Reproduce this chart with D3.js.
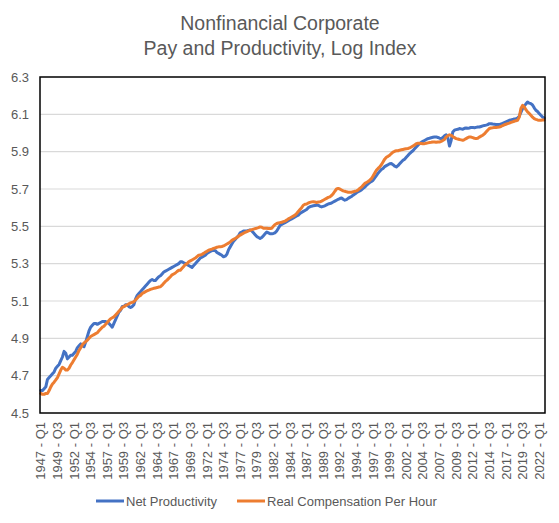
<!DOCTYPE html>
<html>
<head>
<meta charset="utf-8">
<title>Nonfinancial Corporate Pay and Productivity</title>
<script src="https://cdn.jsdelivr.net/npm/d3@7"></script>
<style>
  body { margin: 0; background: #fff; }
  text { font-family: "Liberation Sans", Arial, sans-serif; }
</style>
</head>
<body>
<div id="main"></div>
<script>
const width = 559;
const height = 523;

// quarters 1947 Q1 .. 2022 Q4, one row per year
const years = d3.range(1947, 2023);
const quarters = years.flatMap(y => ["Q1", "Q2", "Q3", "Q4"].map(q => y + " - " + q));

const netProductivity = [
  4.62, 4.62, 4.63, 4.64,       // 1947
  4.68, 4.69, 4.70, 4.71,
  4.72, 4.74, 4.75, 4.76,
  4.78, 4.80, 4.83, 4.82,       // 1950
  4.79, 4.80, 4.81, 4.81,
  4.82, 4.83, 4.85, 4.86,
  4.87, 4.86, 4.855, 4.88,
  4.91, 4.94, 4.96, 4.97,
  4.98, 4.98, 4.975, 4.98,      // 1955
  4.985, 4.99, 4.99, 4.99,
  4.985, 4.98, 4.97, 4.96,
  4.98, 5.00, 5.02, 5.04,
  5.05, 5.07, 5.07, 5.08,
  5.08, 5.07, 5.065, 5.07,      // 1960
  5.08, 5.11, 5.13, 5.14,
  5.15, 5.16, 5.17, 5.18,
  5.19, 5.20, 5.21, 5.215,
  5.21, 5.21, 5.22, 5.23,
  5.235, 5.245, 5.255, 5.26,    // 1965
  5.265, 5.27, 5.275, 5.28,
  5.285, 5.29, 5.295, 5.30,
  5.31, 5.31, 5.305, 5.30,
  5.295, 5.29, 5.285, 5.28,
  5.29, 5.30, 5.31, 5.32,       // 1970
  5.33, 5.335, 5.34, 5.345,
  5.355, 5.36, 5.365, 5.37,
  5.372, 5.37, 5.36, 5.355,
  5.35, 5.345, 5.337, 5.34,
  5.35, 5.375, 5.39, 5.405,     // 1975
  5.42, 5.43, 5.44, 5.45,
  5.465, 5.47, 5.475, 5.475,
  5.475, 5.478, 5.48, 5.475,
  5.465, 5.455, 5.445, 5.44,
  5.435, 5.44, 5.45, 5.46,      // 1980
  5.47, 5.465, 5.46, 5.46,
  5.462, 5.465, 5.475, 5.49,
  5.505, 5.51, 5.515, 5.52,
  5.525, 5.53, 5.535, 5.54,
  5.545, 5.55, 5.555, 5.56,     // 1985
  5.569, 5.575, 5.58, 5.585,
  5.59, 5.60, 5.605, 5.608,
  5.61, 5.612, 5.613, 5.613,
  5.607, 5.604, 5.607, 5.61,
  5.615, 5.62, 5.622, 5.625,    // 1990
  5.63, 5.635, 5.64, 5.645,
  5.649, 5.652, 5.645, 5.64,
  5.643, 5.65, 5.655, 5.66,
  5.667, 5.673, 5.68, 5.685,
  5.69, 5.695, 5.703, 5.71,     // 1995
  5.72, 5.728, 5.735, 5.74,
  5.747, 5.76, 5.772, 5.785,
  5.795, 5.805, 5.81, 5.82,
  5.825, 5.83, 5.835, 5.836,
  5.83, 5.822, 5.818, 5.825,    // 2000
  5.835, 5.845, 5.854, 5.86,
  5.87, 5.88, 5.89, 5.898,
  5.905, 5.915, 5.925, 5.935,
  5.943, 5.95, 5.955, 5.96,
  5.965, 5.97, 5.972, 5.975,    // 2005
  5.977, 5.979, 5.979, 5.976,
  5.972, 5.97, 5.975, 5.985,
  5.99, 5.975, 5.93, 5.96,
  6.005, 6.015, 6.018, 6.02,
  6.024, 6.022, 6.02, 6.025,    // 2010
  6.027, 6.025, 6.027, 6.03,
  6.03, 6.028, 6.03, 6.032,
  6.032, 6.035, 6.038, 6.04,
  6.042, 6.045, 6.05, 6.05,
  6.048, 6.047, 6.046, 6.045,   // 2015
  6.045, 6.048, 6.052, 6.056,
  6.06, 6.064, 6.068, 6.07,
  6.072, 6.075, 6.077, 6.08,
  6.09, 6.11, 6.131, 6.145,
  6.155, 6.166, 6.16, 6.157,    // 2020
  6.15, 6.135, 6.122, 6.115,
  6.105, 6.095, 6.086, 6.08
];

const realCompensation = [
  4.605, 4.60, 4.60, 4.605,     // 1947
  4.605, 4.62, 4.64, 4.655,
  4.665, 4.677, 4.69, 4.71,
  4.73, 4.745, 4.74, 4.73,      // 1950
  4.73, 4.74, 4.757, 4.77,
  4.785, 4.80, 4.815, 4.835,
  4.85, 4.865, 4.875, 4.882,
  4.89, 4.90, 4.91, 4.915,
  4.92, 4.925, 4.93, 4.94,      // 1955
  4.95, 4.96, 4.965, 4.975,
  4.985, 4.995, 5.005, 5.01,
  5.015, 5.025, 5.035, 5.045,
  5.055, 5.065, 5.07, 5.075,
  5.08, 5.085, 5.09, 5.093,     // 1960
  5.096, 5.105, 5.115, 5.125,
  5.13, 5.14, 5.145, 5.15,
  5.155, 5.158, 5.162, 5.165,
  5.168, 5.17, 5.172, 5.175,
  5.176, 5.185, 5.195, 5.205,   // 1965
  5.212, 5.221, 5.23, 5.24,
  5.245, 5.25, 5.258, 5.265,
  5.265, 5.275, 5.285, 5.295,
  5.30, 5.31, 5.315, 5.32,
  5.325, 5.33, 5.338, 5.345,    // 1970
  5.346, 5.35, 5.355, 5.362,
  5.366, 5.372, 5.375, 5.378,
  5.382, 5.385, 5.388, 5.39,
  5.39, 5.392, 5.395, 5.40,
  5.405, 5.41, 5.417, 5.425,    // 1975
  5.43, 5.435, 5.44, 5.447,
  5.453, 5.458, 5.463, 5.468,
  5.472, 5.476, 5.479, 5.482,
  5.485, 5.488, 5.49, 5.493,
  5.497, 5.495, 5.49, 5.49,     // 1980
  5.49, 5.488, 5.488, 5.49,
  5.50, 5.51, 5.515, 5.518,
  5.52, 5.522, 5.525, 5.528,
  5.533, 5.54, 5.545, 5.55,
  5.555, 5.56, 5.569, 5.58,     // 1985
  5.59, 5.60, 5.613, 5.618,
  5.62, 5.625, 5.628, 5.631,
  5.632, 5.63, 5.628, 5.63,
  5.631, 5.635, 5.64, 5.645,
  5.65, 5.655, 5.658, 5.665,    // 1990
  5.675, 5.688, 5.70, 5.703,
  5.70, 5.695, 5.69, 5.688,
  5.685, 5.683, 5.682, 5.683,
  5.685, 5.688, 5.69, 5.695,
  5.703, 5.71, 5.72, 5.73,      // 1995
  5.735, 5.74, 5.747, 5.755,
  5.77, 5.785, 5.80, 5.81,
  5.818, 5.83, 5.845, 5.86,
  5.87, 5.875, 5.881, 5.89,
  5.898, 5.902, 5.905, 5.905,   // 2000
  5.908, 5.91, 5.912, 5.914,
  5.916, 5.917, 5.92, 5.925,
  5.93, 5.935, 5.943, 5.945,
  5.945, 5.944, 5.943, 5.943,
  5.945, 5.947, 5.949, 5.95,    // 2005
  5.952, 5.952, 5.95, 5.952,
  5.952, 5.955, 5.96, 5.965,
  5.979, 5.985, 5.99, 5.988,
  5.98, 5.975, 5.97, 5.968,
  5.965, 5.963, 5.961, 5.965,   // 2010
  5.97, 5.975, 5.979, 5.978,
  5.975, 5.972, 5.97, 5.972,
  5.978, 5.983, 5.988, 5.995,
  6.005, 6.015, 6.024, 6.027,
  6.028, 6.03, 6.03, 6.031,     // 2015
  6.032, 6.035, 6.04, 6.044,
  6.047, 6.05, 6.053, 6.057,
  6.06, 6.063, 6.066, 6.068,
  6.085, 6.131, 6.148, 6.14,
  6.125, 6.113, 6.105, 6.095,   // 2020
  6.085, 6.077, 6.073, 6.07,
  6.068, 6.068, 6.07, 6.07
];

const yTicks = [4.5, 4.7, 4.9, 5.1, 5.3, 5.5, 5.7, 5.9, 6.1, 6.3];

const seriesNames = ["Net Productivity", "Real Compensation Per Hour"];
const seriesColors = ["#4472C4", "#ED7D31"];

const margin = { top: 77, right: 14, bottom: 110, left: 40 };

const svg = d3.select("#main").append("svg")
  .attr("width", width)
  .attr("height", height);

const x = d3.scaleBand()
  .domain(quarters)
  .range([margin.left, width - margin.right]);

const y = d3.scaleLinear()
  .domain([4.5, 6.3])
  .range([height - margin.bottom, margin.top]);

// title
const title = svg.append("text")
  .attr("text-anchor", "middle")
  .style("font-size", "19.5px")
  .style("fill", "#595959");
title.append("tspan").attr("x", 280).attr("y", 30).text("Nonfinancial Corporate");
title.append("tspan").attr("x", 280).attr("y", 55).text("Pay and Productivity, Log Index");

// gridlines
svg.append("g")
  .selectAll("line")
  .data(yTicks.slice(1, -1))
  .join("line")
  .attr("x1", margin.left)
  .attr("x2", width - margin.right)
  .attr("y1", d => y(d))
  .attr("y2", d => y(d))
  .attr("stroke", "#d9d9d9")
  .attr("stroke-width", 1.2);

// y axis
const yAxis = svg.append("g")
  .attr("transform", `translate(${margin.left},0)`)
  .call(d3.axisLeft(y).tickValues(yTicks).tickFormat(d3.format(".1f")).tickSize(0).tickPadding(11));
yAxis.select(".domain").remove();
yAxis.selectAll("text")
  .style("font-size", "13px")
  .style("fill", "#595959")
  .style("font-family", "'Liberation Sans', Arial, sans-serif");

// x axis, label every 10th quarter
const xAxis = svg.append("g")
  .attr("transform", `translate(0,${height - margin.bottom})`)
  .call(d3.axisBottom(x)
    .tickValues(quarters.filter((d, i) => i % 10 === 0))
    .tickSize(0));
xAxis.select(".domain").remove();
xAxis.selectAll("text")
  .attr("transform", "rotate(-90)")
  .attr("text-anchor", "end")
  .attr("x", -9)
  .attr("y", 0)
  .attr("dy", "0.35em")
  .style("font-size", "13px")
  .style("fill", "#595959")
  .style("font-family", "'Liberation Sans', Arial, sans-serif");

// lines
const line = d3.line()
  .x((d, i) => x(quarters[i]) + x.bandwidth() / 2)
  .y(d => y(d));

[netProductivity, realCompensation].forEach((s, k) => {
  svg.append("path")
    .datum(s)
    .attr("fill", "none")
    .attr("stroke", seriesColors[k])
    .attr("stroke-width", 3)
    .attr("stroke-linejoin", "round")
    .attr("stroke-linecap", "round")
    .attr("d", line);
});

// plot frame
svg.append("rect")
  .attr("x", margin.left)
  .attr("y", margin.top)
  .attr("width", width - margin.left - margin.right)
  .attr("height", height - margin.top - margin.bottom)
  .attr("fill", "none")
  .attr("stroke", "#000")
  .attr("stroke-width", 1.5);

// legend
const legendX = [96, 237];
const legend = svg.append("g");
seriesNames.forEach((name, i) => {
  legend.append("line")
    .attr("x1", legendX[i]).attr("x2", legendX[i] + 28)
    .attr("y1", 501).attr("y2", 501)
    .attr("stroke", seriesColors[i])
    .attr("stroke-width", 3);
  legend.append("text")
    .attr("x", legendX[i] + 30)
    .attr("y", 505.5)
    .style("font-size", "13px")
    .style("fill", "#595959")
    .text(name);
});
</script>
</body>
</html>
